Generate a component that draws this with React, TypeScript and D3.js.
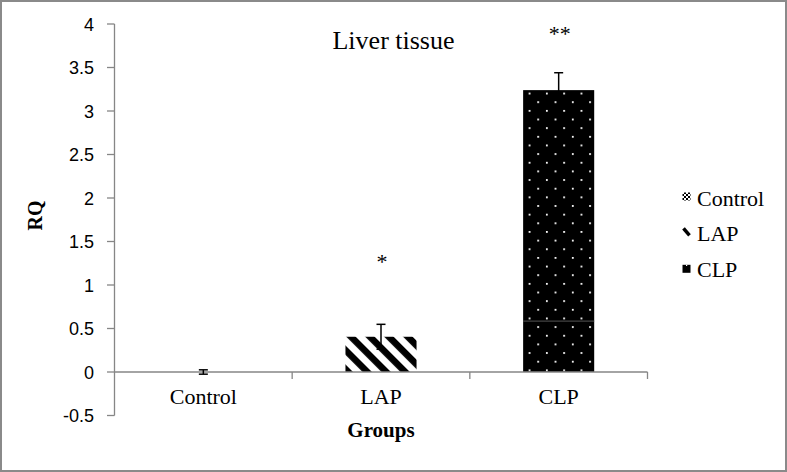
import React from 'react';
import * as d3 from 'd3';

// groups and their RQ values
const groups = ['Control', 'LAP', 'CLP'];
const rqMean = [0.0, 0.405, 3.24];
const rqErr = [0.025, 0.143, 0.2];
const stars = ['', '*', '**'];
const starValue = [0, 1.18, 3.8];
const yTicks = [-0.5, 0, 0.5, 1, 1.5, 2, 2.5, 3, 3.5, 4];
const legendLabels = ['Control', 'LAP', 'CLP'];

const W = 787;
const H = 472;
const serif = '"Liberation Serif", "Times New Roman", serif';
const sans = '"Liberation Sans", Arial, sans-serif';
const axisGrey = '#868686';

const App = () => {
    const y = d3.scaleLinear().domain([-0.5, 4]).range([415.5, 24]);
    const x = d3.scaleBand().domain(groups).range([114.5, 647.5]).padding(0);
    const barW = x.bandwidth() * 0.4;
    const barLeft = (g: string) => (x(g) as number) + (x.bandwidth() - barW) / 2;
    const mid = (g: string) => (x(g) as number) + x.bandwidth() / 2;

    const clpLeft = barLeft('CLP');
    const clpTop = y(rqMean[2]);

    return (
        <svg width={W} height={H} style={{ position: 'absolute', left: 0, top: 0, background: '#fff' }}>
            <defs>
                <pattern id="stripes" patternUnits="userSpaceOnUse" width={13.4} height={13.4} patternTransform="rotate(45)">
                    <rect width={13.4} height={13.4} fill="#fff" />
                    <rect width={13.4} height={6.6} fill="#000" />
                </pattern>
                <pattern id="dots" patternUnits="userSpaceOnUse" x={clpLeft + 5.5} y={clpTop + 2.5} width={17.3} height={17.3}>
                    <rect width={17.3} height={17.3} fill="#000" />
                    <rect x={0} y={0} width={1.8} height={1.8} fill="#fff" />
                    <rect x={8.65} y={8.65} width={1.8} height={1.8} fill="#fff" />
                </pattern>
                <pattern id="checker" patternUnits="userSpaceOnUse" width={4} height={4}>
                    <rect width={4} height={4} fill="#fff" />
                    <rect width={2} height={2} fill="#000" />
                    <rect x={2} y={2} width={2} height={2} fill="#000" />
                </pattern>
            </defs>

            <rect x={1} y={1} width={W - 2} height={H - 2} fill="#fff" stroke="#8a8a8a" strokeWidth={2} />

            {/* bars */}
            {groups.map((g, i) => (
                <rect
                    key={g}
                    x={barLeft(g)}
                    y={y(Math.max(0, rqMean[i]))}
                    width={barW}
                    height={Math.abs(y(rqMean[i]) - y(0))}
                    fill={i === 0 ? 'url(#checker)' : i === 1 ? 'url(#stripes)' : 'url(#dots)'}
                />
            ))}
            {/* faint line that crosses the CLP bar in the source image */}
            <line x1={clpLeft} x2={clpLeft + barW} y1={y(0.585)} y2={y(0.585)} stroke="#555" strokeWidth={1} />

            {/* axes */}
            <line x1={114.5} x2={114.5} y1={y(4)} y2={y(-0.5)} stroke={axisGrey} strokeWidth={1.3} />
            {yTicks.map(t => (
                <g key={t}>
                    <line x1={107} x2={114.5} y1={y(t)} y2={y(t)} stroke={axisGrey} strokeWidth={1.3} />
                    <text x={94} y={y(t) + 6.5} textAnchor="end" fontFamily={sans} fontSize={18} fill="#000">{t}</text>
                </g>
            ))}
            <line x1={114.5} x2={647.5} y1={y(0)} y2={y(0)} stroke={axisGrey} strokeWidth={1.3} />
            {groups.map(g => (
                <line key={g} x1={(x(g) as number) + x.bandwidth()} x2={(x(g) as number) + x.bandwidth()} y1={y(0)} y2={y(0) + 7} stroke={axisGrey} strokeWidth={1.3} />
            ))}

            {/* error bars */}
            {groups.map((g, i) => {
                const cx = mid(g);
                const top = y(rqMean[i] + rqErr[i]);
                const bot = y(rqMean[i] - rqErr[i]);
                return (
                    <g key={g} stroke="#000" strokeWidth={1.5}>
                        <line x1={cx} x2={cx} y1={top} y2={bot} />
                        <line x1={cx - 4.5} x2={cx + 4.5} y1={top} y2={top} />
                        <line x1={cx - 4.5} x2={cx + 4.5} y1={bot} y2={bot} />
                    </g>
                );
            })}

            {/* significance stars */}
            {groups.map((g, i) => stars[i] ? (
                <text key={g} x={mid(g) + 1} y={y(starValue[i])} textAnchor="middle" fontFamily={serif} fontSize={22}>{stars[i]}</text>
            ) : null)}

            {/* category labels */}
            {groups.map(g => (
                <text key={g} x={mid(g)} y={404} textAnchor="middle" fontFamily={serif} fontSize={22}>{g}</text>
            ))}

            <text x={393.5} y={49} textAnchor="middle" fontFamily={serif} fontSize={26}>Liver tissue</text>
            <text x={381} y={437} textAnchor="middle" fontFamily={serif} fontSize={21} fontWeight="bold">Groups</text>
            <text transform="translate(42,215.5) rotate(-90)" textAnchor="middle" fontFamily={serif} fontSize={20} fontWeight="bold">RQ</text>

            {/* legend */}
            {legendLabels.map((l, i) => {
                const base = 206 + i * 35.4;
                return (
                    <g key={l}>
                        {i === 0 && <rect x={682.5} y={base - 13.5} width={8} height={8} fill="url(#checker)" />}
                        {i === 1 && <line x1={683.5} y1={base - 13} x2={689.5} y2={base - 6} stroke="#000" strokeWidth={3.5} />}
                        {i === 2 && (
                            <g>
                                <rect x={682.5} y={base - 12} width={8} height={8} fill="#000" />
                                <rect x={686} y={base - 12} width={1.2} height={1.2} fill="#fff" />
                            </g>
                        )}
                        <text x={697} y={base} fontFamily={serif} fontSize={22}>{l}</text>
                    </g>
                );
            })}
        </svg>
    );
};

export default App;
